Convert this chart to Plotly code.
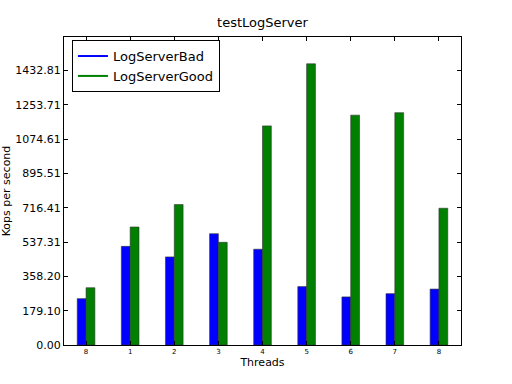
import plotly.graph_objects as go

thread_labels = ["8", "1", "2", "3", "4", "5", "6", "7", "8"]
bad_values = [242, 515, 460, 581, 500, 305, 251, 268, 292]
good_values = [299, 616, 733, 536, 1144, 1468, 1200, 1213, 714]
ytick_vals = [0, 179.10, 358.20, 537.31, 716.41, 895.51, 1074.61, 1253.71, 1432.81]
ytick_text = ["0.00", "179.10", "358.20", "537.31", "716.41", "895.51", "1074.61", "1253.71", "1432.81"]

pos = list(range(len(thread_labels)))
font = "DejaVu Sans"

fig = go.Figure()
fig.add_trace(go.Bar(x=[p - 0.1 for p in pos], y=bad_values, width=0.2, name="LogServerBad",
                     marker=dict(color="#0000ff", line=dict(color="#333333", width=0.6)),
                     showlegend=False))
fig.add_trace(go.Bar(x=[p + 0.1 for p in pos], y=good_values, width=0.2, name="LogServerGood",
                     marker=dict(color="#008000", line=dict(color="#333333", width=0.6)),
                     showlegend=False))
# legend entries drawn as lines, matplotlib style
fig.add_trace(go.Scatter(x=[None], y=[None], mode="lines", name="LogServerBad",
                         line=dict(color="#0000ff", width=2)))
fig.add_trace(go.Scatter(x=[None], y=[None], mode="lines", name="LogServerGood",
                         line=dict(color="#008000", width=2)))

fig.update_layout(
    width=512, height=384,
    margin=dict(l=64, r=51, t=37, b=39, autoexpand=False),
    paper_bgcolor="white", plot_bgcolor="white",
    font=dict(family=font, color="black"),
    title=dict(text="testLogServer", x=0.5, xanchor="center", xref="paper",
               y=1 - 22 / 384, yanchor="middle", font=dict(size=13, family=font)),
    barmode="overlay",
    legend=dict(x=0.02, y=0.99, xanchor="left", yanchor="top",
                bordercolor="black", borderwidth=1, bgcolor="white",
                font=dict(size=13, family=font), tracegroupgap=0,
                itemwidth=30),
)
fig.update_xaxes(range=[-0.5, 8.5], tickmode="array", tickvals=pos, ticktext=thread_labels,
                 ticks="inside", ticklen=4, tickcolor="black", mirror="ticks", automargin=False,
                 showline=True, linecolor="black", linewidth=1, showgrid=False, zeroline=False,
                 tickfont=dict(size=7, family=font),
                 title=dict(text="Threads", font=dict(size=11, family=font), standoff=2))
fig.update_yaxes(range=[0, 1608], tickmode="array", tickvals=ytick_vals, ticktext=ytick_text,
                 ticks="inside", ticklen=4, tickcolor="black", mirror="ticks", automargin=False,
                 showline=True, linecolor="black", linewidth=1, showgrid=False, zeroline=False,
                 tickfont=dict(size=11, family=font),
                 title=dict(text="Kops per second", font=dict(size=11, family=font), standoff=2))

fig.write_html("out.html", config={"displayModeBar": False},
               post_script="document.body.style.margin='0';")
